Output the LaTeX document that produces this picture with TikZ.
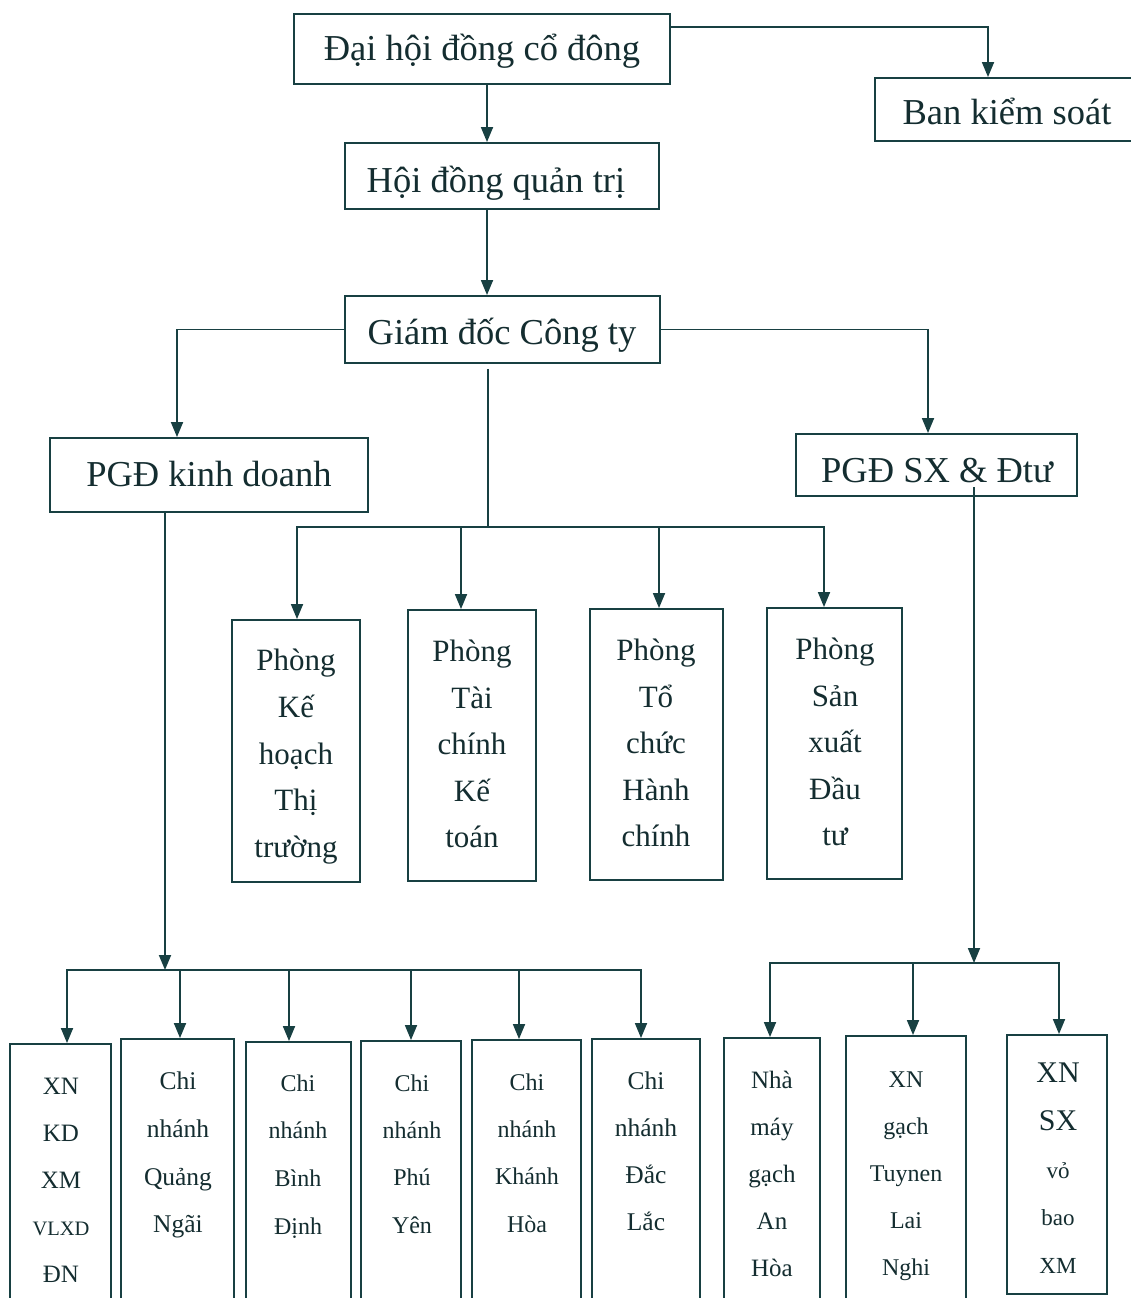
\documentclass[tikz,border=0pt]{standalone}
\usepackage{fontspec}
\setmainfont{Liberation Serif}
\usetikzlibrary{arrows.meta,fit,calc}
\definecolor{ink}{RGB}{24,64,66}
\definecolor{txtc}{RGB}{20,45,48}
\newcommand\bigtxtfont{\fontsize{36.5}{40}\selectfont}
\newcommand\vstack[6]{%
  \pgfmathsetmacro\stkth{0.68*#5}%
  \foreach \t [count=\i from 0] in {#6} {
    \node[txt, text height=\stkth pt, font=\fontsize{#5}{#5}\selectfont] (#1-\i) at (#2, {#3+\i*#4}) {\t};
  }}
\begin{document}
\begin{tikzpicture}[x=1pt, y=-1pt,
  bx/.style={draw=ink, line width=1.9pt, inner sep=0pt, rectangle},
  txt/.style={text=txtc, inner sep=0pt, text height=24pt, text depth=0pt},
  ln/.style={draw=ink, line width=1.8pt},
  arr/.style={ln, -{Triangle[length=15pt,width=12pt]}}]
\useasboundingbox[fill=white] (0,0) rectangle (1131,1298);

% top level
\node[bx, fit={(294,14) (670,84)}] (dh) {};
\node[txt, font=\bigtxtfont] (dht) at (482,49) {Đại hội đồng cổ đông};
\node[bx, fit={(875,78) (1140,141)}] (bks) {};
\node[txt, font=\bigtxtfont] (bkst) at (1007,112) {Ban kiểm soát};
\node[bx, fit={(345,143) (659,209)}] (hdq) {};
\node[txt, font=\bigtxtfont] (hdqt) at (496,180) {Hội đồng quản trị};
\node[bx, fit={(345,296) (660,363)}] (gd) {};
\node[txt, font=\bigtxtfont] (gdt) at (502,332) {Giám đốc Công ty};
\node[bx, fit={(50,438) (368,512)}] (pkd) {};
\node[txt, font=\bigtxtfont] (pkdt) at (209,474) {PGĐ kinh doanh};
\node[bx, fit={(796,434) (1077,496)}] (psx) {};
\node[txt, font=\bigtxtfont] (psxt) at (937,470) {PGĐ SX \& Đtư};

% departments
\node[bx, fit={(232,620) (360,882)}] (pk1) {};
\node[bx, fit={(408,610) (536,881)}] (pk2) {};
\node[bx, fit={(590,609) (723,880)}] (pk3) {};
\node[bx, fit={(767,608) (902,879)}] (pk4) {};
\vstack{t1}{296}{660}{46.75}{31}{Phòng,Kế,hoạch,Thị,trường}
\vstack{t2}{472}{651}{46.5}{31}{Phòng,Tài,chính,Kế,toán}
\vstack{t3}{656}{650}{46.5}{31}{Phòng,Tổ,chức,Hành,chính}
\vstack{t4}{835}{649}{46.5}{31}{Phòng,Sản,xuất,Đầu,tư}

% bottom row
\node[bx, fit={(10,1044) (111,1310)}] (b1) {};
\node[bx, fit={(121,1039) (234,1310)}] (b2) {};
\node[bx, fit={(246,1042) (351,1310)}] (b3) {};
\node[bx, fit={(361,1041) (461,1310)}] (b4) {};
\node[bx, fit={(472,1040) (581,1310)}] (b5) {};
\node[bx, fit={(592,1039) (700,1310)}] (b6) {};
\node[bx, fit={(724,1038) (820,1310)}] (b7) {};
\node[bx, fit={(846,1036) (966,1310)}] (b8) {};
\node[bx, fit={(1007,1035) (1107,1294)}] (b9) {};
\vstack{s1}{61}{1086}{47}{25}{XN,KD,XM,{\fontsize{20.5}{21}\selectfont VLXD},ĐN}
\vstack{s2}{178}{1081}{47.7}{25.5}{Chi,nhánh,Quảng,Ngãi}
\vstack{s3}{298}{1083}{47.7}{24}{Chi,nhánh,Bình,Định}
\vstack{s4}{412}{1083}{47.3}{24}{Chi,nhánh,Phú,Yên}
\vstack{s5}{527}{1082}{47.3}{24}{Chi,nhánh,Khánh,Hòa}
\vstack{s6}{646}{1081}{47}{25.5}{Chi,nhánh,Đắc,Lắc}
\vstack{s7}{772}{1080}{47}{25}{Nhà,máy,gạch,An,Hòa}
\vstack{s8}{906}{1079}{47.2}{24}{XN,gạch,Tuynen,Lai,Nghi}
\vstack{s9}{1058}{1075}{47.7}{23}{{\fontsize{30}{30}\selectfont XN},{\fontsize{30}{30}\selectfont SX},vỏ,bao,XM}

% connectors top
\coordinate (xa) at (487,0);
\coordinate (xbk) at (988,0);
\coordinate (ybk) at (0,27);
\coordinate (xl) at (177,0);
\coordinate (xr) at (928,0);
\draw[arr] (dh.south -| xa) -- (hdq.north -| xa);
\draw[arr] (hdq.south -| xa) -- (gd.north -| xa);
\draw[arr] (dh.east |- ybk) -| (bks.north -| xbk);
\draw[arr] (gd.west) -| (pkd.north -| xl);
\draw[arr] (gd.east) -| (psx.north -| xr);

% departments bus
\coordinate (busA) at (488,527);
\coordinate (p1) at (297,527);
\coordinate (p2) at (461,527);
\coordinate (p3) at (659,527);
\coordinate (p4) at (824,527);
\draw[ln] ($(gd.south -| busA)+(0,5)$) -- (busA);
\draw[arr] (busA) -| (pk1.north -| p1);
\draw[arr] (busA) -| (pk2.north -| p2);
\draw[arr] (busA) -| (pk3.north -| p3);
\draw[arr] (busA) -| (pk4.north -| p4);

% left branch bus
\coordinate (bl) at (165,970);
\coordinate (d1) at (67,970);
\coordinate (d2) at (180,970);
\coordinate (d3) at (289,970);
\coordinate (d4) at (411,970);
\coordinate (d5) at (519,970);
\coordinate (d6) at (641,970);
\draw[arr] (pkd.south -| bl) -- (bl);
\draw[arr] (bl) -| (b1.north -| d1);
\draw[arr] (bl) -| (b2.north -| d2);
\draw[arr] (bl) -| (b3.north -| d3);
\draw[arr] (bl) -| (b4.north -| d4);
\draw[arr] (bl) -| (b5.north -| d5);
\draw[arr] (bl) -| (b6.north -| d6);

% right branch bus
\coordinate (br) at (974,963);
\coordinate (brtop) at (974,487);
\coordinate (e1) at (770,963);
\coordinate (e2) at (913,963);
\coordinate (e3) at (1059,963);
\draw[arr] (brtop) -- (br);
\draw[arr] (br) -| (b7.north -| e1);
\draw[arr] (br) -| (b8.north -| e2);
\draw[arr] (br) -| (b9.north -| e3);
\end{tikzpicture}
\end{document}
